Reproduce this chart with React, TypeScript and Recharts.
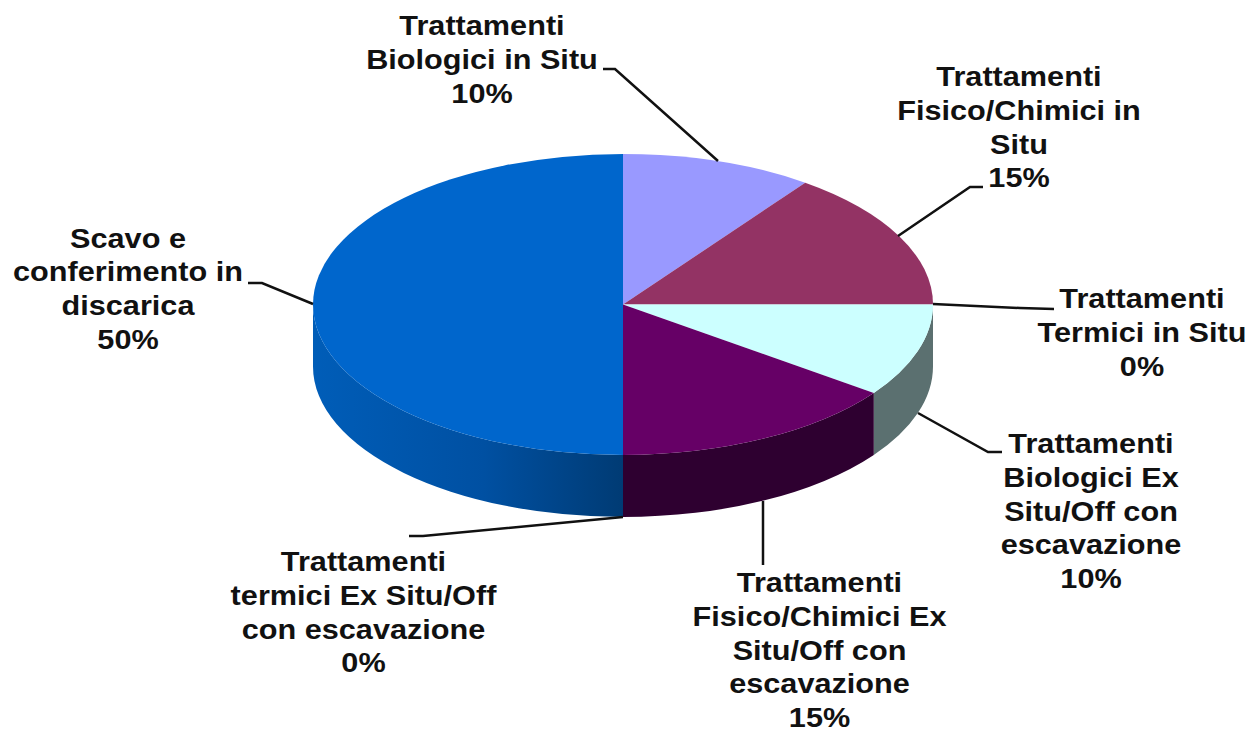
import React from 'react';
import { PieChart, Pie, Cell } from 'recharts';

const categories = [
  'Trattamenti\nBiologici in Situ',
  'Trattamenti\nFisico/Chimici in\nSitu',
  'Trattamenti\nTermici in Situ',
  'Trattamenti\nBiologici Ex\nSitu/Off con\nescavazione',
  'Trattamenti\nFisico/Chimici Ex\nSitu/Off con\nescavazione',
  'Trattamenti\ntermici Ex Situ/Off\ncon escavazione',
  'Scavo e\nconferimento in\ndiscarica',
];
const shares = [10, 15, 0, 10, 15, 0, 50];

const TOP_FILLS = ['#9999FF', '#933364', '#FF9900', '#CCFFFF', '#660066', '#FF8040', '#0066CC'];
const WALL_FILLS = ['#4D4D80', '#4A1A33', '#804D00', '#5B7070', '#2E0030', '#803F20', 'url(#wallBlue)'];

// label anchor (centre x, first baseline) and leader polyline for each slice
const LABEL_LAYOUT = [
  { x: 482, y: 35, line: '603,69 615,69 718,161' },
  { x: 1019, y: 86, line: '983,187 970,187 898,236' },
  { x: 1142, y: 308, line: '933,304 1020,308 1054,309' },
  { x: 1091, y: 453, line: '918,413 988,452 1002,452' },
  { x: 819.5, y: 592, line: '763,501 763,565' },
  { x: 363.5, y: 571, line: '623,517 423,536 409,536' },
  { x: 128, y: 247.5, line: '313,304 262,283 248,283' },
];

const CX = 623;
const CY = 304.5;
const RX = 310;
const RY = 150.5;
const DEPTH = 62;
const LINE_HEIGHT = 33.8;

const chartData = categories.map((name, i) => ({ name, value: shares[i] }));

const pointAt = (deg: number, dy = 0) => {
  const a = (deg * Math.PI) / 180;
  return [CX + RX * Math.cos(a), CY + dy - RY * Math.sin(a)];
};

const TopSlice = (props: any) => {
  const { startAngle, endAngle, fill } = props;
  if (Math.abs(startAngle - endAngle) < 0.01) return null;
  const [x0, y0] = pointAt(startAngle);
  const [x1, y1] = pointAt(endAngle);
  const large = Math.abs(startAngle - endAngle) > 180 ? 1 : 0;
  return (
    <path
      d={`M${CX},${CY} L${x0},${y0} A${RX},${RY} 0 ${large} 1 ${x1},${y1} Z`}
      fill={fill}
      stroke="none"
    />
  );
};

// only the part of a slice between 0 and -180 degrees shows a side wall
const WallSlice = (props: any) => {
  const { startAngle, endAngle, fill } = props;
  const from = Math.min(startAngle, 0);
  const to = Math.max(endAngle, -180);
  if (from - to < 0.01) return null;
  const [x0, y0] = pointAt(from);
  const [x1, y1] = pointAt(to);
  const [x2, y2] = pointAt(to, DEPTH);
  const [x3, y3] = pointAt(from, DEPTH);
  return (
    <path
      d={`M${x0},${y0} A${RX},${RY} 0 0 1 ${x1},${y1} L${x2},${y2} A${RX},${RY} 0 0 0 ${x3},${y3} Z`}
      fill={fill}
      stroke="none"
    />
  );
};

const renderLabel = (props: any) => {
  const { index, value } = props;
  const pos = LABEL_LAYOUT[index];
  const lines = [...categories[index].split('\n'), `${value}%`];
  return (
    <g key={`label-${index}`}>
      <polyline points={pos.line} fill="none" stroke="#111" strokeWidth={2.5} />
      {/* the reference type is wider than Liberation Sans Bold, hence the x stretch */}
      <text
        transform={`translate(${pos.x},${pos.y}) scale(1.095,1)`}
        textAnchor="middle"
        fontFamily="Liberation Sans"
        fontWeight="bold"
        fontSize={28}
        fill="#111"
      >
        {lines.map((line, i) => (
          <tspan key={i} x={0} y={i * LINE_HEIGHT}>
            {line}
          </tspan>
        ))}
      </text>
    </g>
  );
};

const App = () => (
  <div style={{ position: 'absolute', left: 0, top: 0 }}>
    <PieChart width={1254} height={730} margin={{ top: 0, right: 0, bottom: 0, left: 0 }}>
      <defs>
        <linearGradient id="wallBlue" gradientUnits="userSpaceOnUse" x1={313} y1={0} x2={623} y2={0}>
          <stop offset="0%" stopColor="#005DB8" />
          <stop offset="55%" stopColor="#0050A2" />
          <stop offset="100%" stopColor="#003B74" />
        </linearGradient>
      </defs>
      <Pie
        data={chartData}
        dataKey="value"
        cx={CX}
        cy={CY}
        outerRadius={RX}
        startAngle={90}
        endAngle={-270}
        paddingAngle={0}
        stroke="none"
        isAnimationActive={false}
        shape={WallSlice}
      >
        {chartData.map((d, i) => (
          <Cell key={d.name} fill={WALL_FILLS[i]} />
        ))}
      </Pie>
      <Pie
        data={chartData}
        dataKey="value"
        cx={CX}
        cy={CY}
        outerRadius={RX}
        startAngle={90}
        endAngle={-270}
        paddingAngle={0}
        stroke="none"
        isAnimationActive={false}
        shape={TopSlice}
        label={renderLabel}
        labelLine={false}
      >
        {chartData.map((d, i) => (
          <Cell key={d.name} fill={TOP_FILLS[i]} />
        ))}
      </Pie>
    </PieChart>
  </div>
);

export default App;
